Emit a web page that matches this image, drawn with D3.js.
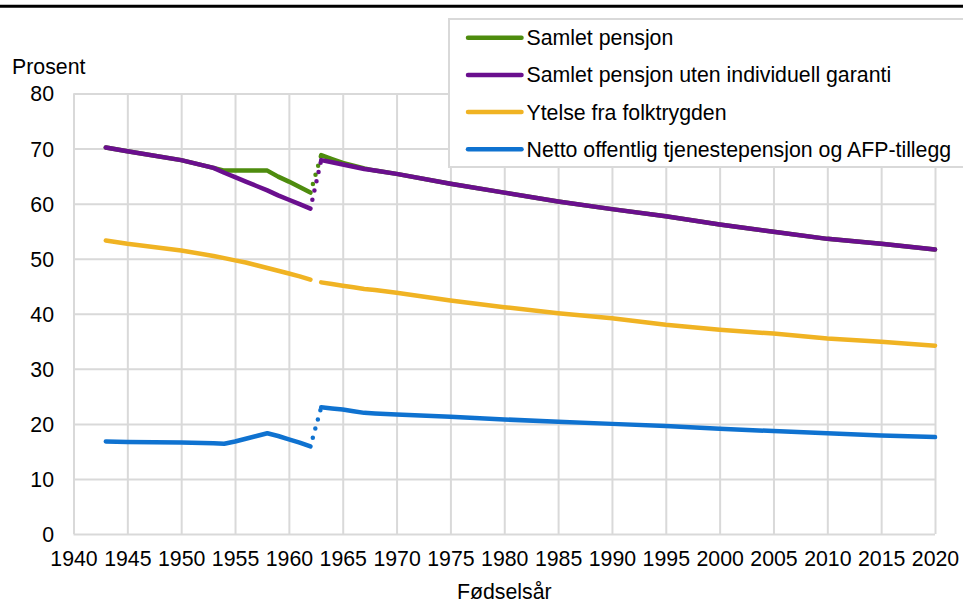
<!DOCTYPE html>
<html>
<head>
<meta charset="utf-8">
<script src="https://cdn.jsdelivr.net/npm/d3@7"></script>
<style>
	body{margin:0;background:#fff;}
	svg{display:block;font-family:"Liberation Sans", Arial, sans-serif;}
</style>
</head>
<body>
<svg id="chart" width="963" height="603"></svg>
<script>
// birth years (x values) shared by every series
const years = [1943, 1945, 1950, 1953, 1954, 1955, 1956, 1957, 1958, 1959, 1960, 1961, 1962,
	1963, 1964, 1965, 1966, 1967, 1968, 1970, 1975, 1980, 1985, 1990, 1995, 2000, 2005, 2010, 2015, 2020];

const samletPensjon = [70.2, 69.5, 67.9, 66.5, 66.0, 66.0, 66.0, 66.0, 66.0, 64.9, 64.0, 63.0, 62.0,
	68.8, 68.1, 67.4, 66.9, 66.4, 66.0, 65.4, 63.6, 62.0, 60.4, 59.0, 57.7, 56.2, 54.9, 53.6, 52.7, 51.65];

const utenGaranti = [70.2, 69.5, 67.9, 66.5, 65.6, 64.8, 64.0, 63.2, 62.4, 61.5, 60.7, 59.9, 59.1,
	67.9, 67.5, 67.1, 66.7, 66.3, 66.0, 65.4, 63.6, 62.0, 60.4, 59.0, 57.7, 56.2, 54.9, 53.6, 52.7, 51.65];

const folketrygd = [53.3, 52.7, 51.5, 50.5, 50.1, 49.7, 49.3, 48.8, 48.3, 47.8, 47.3, 46.8, 46.2,
	45.7, 45.4, 45.1, 44.8, 44.5, 44.3, 43.8, 42.4, 41.2, 40.1, 39.2, 38.0, 37.1, 36.4, 35.5, 34.9, 34.2];

const tjenestepensjon = [16.8, 16.7, 16.6, 16.5, 16.4, 16.8, 17.3, 17.8, 18.3, 17.8, 17.2, 16.6, 15.9,
	23.0, 22.8, 22.6, 22.3, 22.0, 21.9, 21.7, 21.3, 20.8, 20.4, 20.0, 19.6, 19.1, 18.7, 18.3, 17.9, 17.6];

const seriesNames = ["Samlet pensjon", "Samlet pensjon uten individuell garanti",
	"Ytelse fra folktrygden", "Netto offentlig tjenestepensjon og AFP-tillegg"];
const seriesColors = ["#4e8c0e", "#6a0f8e", "#f0b323", "#0f72d0"];
// which series get a dotted bridge over the 1962/1963 break
const bridged = [true, true, false, true];

const xTicks = d3.range(1940, 2021, 5);
const yTicks = d3.range(0, 81, 10);
const breakYear = 1962;

drawChart();

function drawChart(){
	let svg = d3.select("#chart"),
		x = d3.scaleLinear().domain([1940, 2020]).range([73.5, 935]),
		y = d3.scaleLinear().domain([0, 80]).range([534, 93.5]),
		gridColor = "#d9d9d9",
		fontSize = 21.3,
		allValues = [samletPensjon, utenGaranti, folketrygd, tjenestepensjon];

	drawTopRule();
	drawGrid();
	drawAxes();
	drawLegend();
	drawSeries();

	//thick black rule across the top of the figure
	function drawTopRule(){
		svg.append("line")
			.attr("x1", 0).attr("x2", 963)
			.attr("y1", 6.2).attr("y2", 6.2)
			.attr("stroke", "#000")
			.attr("stroke-width", 3);
	}

	function drawGrid(){
		svg.append("g")
			.attr("transform", "translate(0,534)")
			.call(d3.axisBottom(x).tickValues(xTicks).tickSize(-(534 - 93.5)).tickFormat(""))
			.call(g => g.select(".domain").remove())
			.selectAll("line").attr("stroke", gridColor).attr("stroke-width", 2);

		svg.append("g")
			.attr("transform", "translate(73.5,0)")
			.call(d3.axisLeft(y).tickValues(yTicks).tickSize(-(935 - 73.5)).tickFormat(""))
			.call(g => g.select(".domain").remove())
			.selectAll("line").attr("stroke", gridColor).attr("stroke-width", 2);
	}

	//tick labels and axis titles
	function drawAxes(){
		let xAxis = svg.append("g")
			.attr("transform", "translate(0,534)")
			.call(d3.axisBottom(x).tickValues(xTicks).tickSize(0).tickPadding(0).tickFormat(d3.format("d")));
		xAxis.select(".domain").remove();
		xAxis.selectAll("text")
			.attr("y", 32)
			.attr("dy", 0)
			.attr("font-size", fontSize)
			.attr("font-family", "Liberation Sans, Arial, sans-serif")
			.attr("fill", "#000");

		let yAxis = svg.append("g")
			.attr("transform", "translate(73.5,0)")
			.call(d3.axisLeft(y).tickValues(yTicks).tickSize(0).tickPadding(0));
		yAxis.select(".domain").remove();
		yAxis.selectAll("text")
			.attr("x", -19.5)
			.attr("dy", "0.35em")
			.attr("font-size", fontSize)
			.attr("font-family", "Liberation Sans, Arial, sans-serif")
			.attr("fill", "#000");

		svg.append("text")
			.attr("x", 12).attr("y", 74)
			.attr("font-size", fontSize)
			.text("Prosent");

		svg.append("text")
			.attr("x", (x.range()[0] + x.range()[1]) / 2).attr("y", 599)
			.attr("text-anchor", "middle")
			.attr("font-size", fontSize)
			.text("Fødselsår");
	}

	function drawLegend(){
		let legend = svg.append("g").attr("class", "legend");
		legend.append("rect")
			.attr("x", 449).attr("y", 19)
			.attr("width", 600).attr("height", 148)
			.attr("fill", "#fff")
			.attr("stroke", gridColor)
			.attr("stroke-width", 2);

		let rows = legend.selectAll("g.row")
			.data(seriesNames)
			.enter().append("g")
			.attr("class", "row")
			.attr("transform", (d, i) => "translate(0," + (37.7 + i * 37.2) + ")");

		rows.append("line")
			.attr("x1", 468).attr("x2", 521.5)
			.attr("stroke", (d, i) => seriesColors[i])
			.attr("stroke-width", 4.5)
			.attr("stroke-linecap", "round");

		rows.append("text")
			.attr("x", 526.5)
			.attr("dy", "0.35em")
			.attr("font-size", fontSize)
			.text(d => d);
	}

	//solid segments before and after the break, dotted bridge between them
	function drawSeries(){
		let line = d3.line()
			.x(d => x(d.year))
			.y(d => y(d.value));

		// green first so purple sits on top where they overlap
		allValues.forEach(function(values, i){
			let points = years.map((yr, j) => ({year: yr, value: values[j]})),
				before = points.filter(p => p.year <= breakYear),
				after = points.filter(p => p.year > breakYear),
				g = svg.append("g").attr("class", "series");

			[before, after].forEach(function(part){
				g.append("path")
					.datum(part)
					.attr("d", line)
					.attr("fill", "none")
					.attr("stroke", seriesColors[i])
					.attr("stroke-width", 4.5)
					.attr("stroke-linecap", "round")
					.attr("stroke-linejoin", "round");
			});

			if(bridged[i]){
				g.append("path")
					.datum([before[before.length - 1], after[0]])
					.attr("d", line)
					.attr("fill", "none")
					.attr("stroke", seriesColors[i])
					.attr("stroke-width", 4.5)
					.attr("stroke-linecap", "round")
					.attr("stroke-dasharray", "0,9.5")
					.attr("stroke-dashoffset", -9);
			}
		});
	}
}
</script>
</body>
</html>
